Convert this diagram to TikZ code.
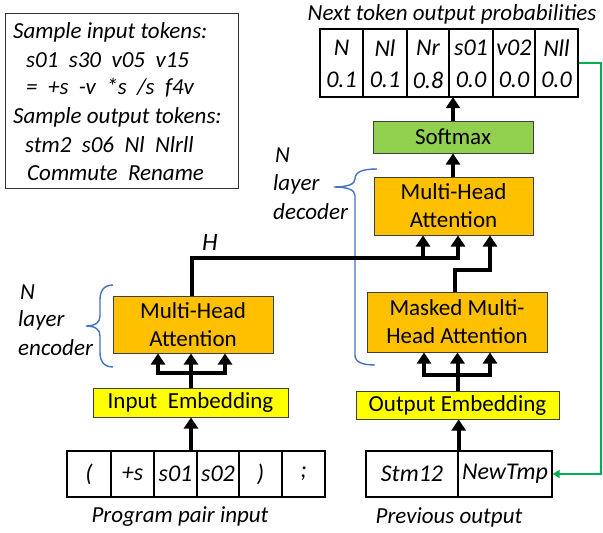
\documentclass[tikz,border=0pt]{standalone}
\usepackage{fontspec}
\setmainfont{Carlito}
\usetikzlibrary{arrows.meta}
\definecolor{orng}{HTML}{FFC000}
\definecolor{yell}{HTML}{FFFF00}
\definecolor{sgreen}{HTML}{92D050}
\definecolor{lgreen}{HTML}{00B050}
\definecolor{bbrace}{HTML}{4472C4}
\definecolor{bord}{HTML}{404040}
\begin{document}
\begin{tikzpicture}[x=1pt,y=-1pt,
  txt/.style={font=\fontsize{23}{28}\selectfont, inner sep=0pt},
  itxt/.style={font=\fontsize{23}{28}\selectfont\itshape, inner sep=0pt},
  ctxt/.style={font=\fontsize{24}{28}\selectfont\itshape, inner sep=0pt},
  box/.style={draw=bord, line width=1pt, inner sep=0pt, align=center, font=\fontsize{23}{28}\selectfont},
  cell/.style={draw=black, line width=1.3pt, inner sep=0pt, font=\fontsize{24}{28}\selectfont\itshape},
  arr/.style={line width=4pt, -{Triangle[width=14pt,length=11pt]}},
  garr/.style={draw=lgreen, line width=2pt, -{Triangle[width=8pt,length=7pt]}},
  brc/.style={draw=bbrace, line width=1.4pt},
]
\useasboundingbox (0,0) rectangle (603,533);

% sample box
\node[draw=black!80, line width=1pt, minimum width=233pt, minimum height=175pt, inner sep=0pt] (sample) at (121.5,100.5) {};
\node[itxt, anchor=west] (s1) at (13,32) {Sample input tokens:};
\node[itxt, anchor=west] (s2) at (26,60) {s01\ \ s30\ \ v05\ \ v15};
\node[itxt, anchor=west] (s3) at (26,88) {=\ \ +s\ \ -v\ \ *s\ \ /s\ \ f4v};
\node[itxt, anchor=west] (s4) at (13,117) {Sample output tokens:};
\node[itxt, anchor=west] (s5) at (25,145) {stm2\ \ s06\ \ Nl\ \ Nlrll};
\node[itxt, anchor=west] (s6) at (27,173) {Commute\ \ Rename};

% title
\node[itxt] (title) at (452,14) {Next token output probabilities};

% probability table
\node[minimum width=258pt, minimum height=68pt, inner sep=0pt] (ptab) at (449,63) {};
\node[cell, minimum width=43pt, minimum height=68pt] (p1) at (341.5,63) {};
\node[cell, minimum width=44pt, minimum height=68pt] (p2) at (385,63) {};
\node[cell, minimum width=42pt, minimum height=68pt] (p3) at (428,63) {};
\node[cell, minimum width=44pt, minimum height=68pt] (p4) at (471,63) {};
\node[cell, minimum width=42pt, minimum height=68pt] (p5) at (514,63) {};
\node[cell, minimum width=43pt, minimum height=68pt] (p6) at (556.5,63) {};
\node[ctxt] (pa1) at (341.5,48) {N};
\node[ctxt] (pa2) at (385,48) {Nl};
\node[ctxt] (pa3) at (428,48) {Nr};
\node[ctxt] (pa4) at (471,48) {s01};
\node[ctxt] (pa5) at (514,48) {v02};
\node[ctxt] (pa6) at (556.5,48) {Nll};
\node[ctxt] (pb1) at (341.5,80) {0.1};
\node[ctxt] (pb2) at (385,80) {0.1};
\node[ctxt] (pb3) at (428,80) {0.8};
\node[ctxt] (pb4) at (471,80) {0.0};
\node[ctxt] (pb5) at (514,80) {0.0};
\node[ctxt] (pb6) at (556.5,80) {0.0};

% decoder side boxes
\node[box, fill=sgreen, minimum width=160pt, minimum height=32pt] (softmax) at (453,137) {Softmax};
\node[box, fill=orng, minimum width=159pt, minimum height=58pt] (decMHA) at (453.5,206) {Multi-Head\\Attention};
\node[box, fill=orng, minimum width=180pt, minimum height=60pt] (masked) at (457,322) {Masked Multi-\\Head Attention};
\node[box, fill=yell, minimum width=203pt, minimum height=28pt] (outemb) at (457.5,405) {Output Embedding};

% encoder side boxes
\node[box, fill=orng, minimum width=160pt, minimum height=57pt] (encMHA) at (193,324.5) {Multi-Head\\Attention};
\node[box, fill=yell, minimum width=195pt, minimum height=29pt] (inemb) at (190.5,402.5) {Input\ \ Embedding};

% input table
\node[cell, minimum width=44pt, minimum height=46pt] (i1) at (89,474) {(};
\node[cell, minimum width=43pt, minimum height=46pt] (i2) at (132.5,474) {+s};
\node[cell, minimum width=43pt, minimum height=46pt] (i3) at (175.5,474) {s01};
\node[cell, minimum width=42pt, minimum height=46pt] (i4) at (218,474) {s02};
\node[cell, minimum width=43pt, minimum height=46pt] (i5) at (260.5,474) {)};
\node[cell, minimum width=43pt, minimum height=46pt] (i6) at (303.5,474) {;};
\node[itxt] (plab) at (180,517) {Program pair input};

% previous output table
\node[cell, minimum width=92pt, minimum height=46pt] (o1) at (412,474) {Stm12};
\node[cell, minimum width=94pt, minimum height=46pt] (o2) at (505,474) {NewTmp};
\node[itxt] (olab) at (449,517) {Previous output};

% labels
\node[itxt, anchor=west] (en1) at (20,292) {N};
\node[itxt, anchor=west] (en2) at (18,320) {layer};
\node[itxt, anchor=west] (en3) at (18,348) {encoder};
\node[itxt, anchor=west] (de1) at (275,155) {N};
\node[itxt, anchor=west] (de2) at (273,184) {layer};
\node[itxt, anchor=west] (de3) at (273,212) {decoder};
\node[font=\fontsize{25}{28}\selectfont\itshape, inner sep=0pt] (H) at (210,242) {H};

% braces
\draw[brc] (113,285) .. controls (103,285) and (100,292) .. (100,300) -- (100,316)
  .. controls (100,322) and (96,326) .. (86,326)
  .. controls (96,326) and (100,330) .. (100,336) -- (100,352)
  .. controls (100,360) and (103,367) .. (113,367);
\draw[brc] (377,169) .. controls (362,169) and (355,172) .. (355,179)
  .. controls (355,184) and (348,187) .. (334,187)
  .. controls (348,187) and (355,190) .. (355,196) -- (355,355)
  .. controls (355,362) and (362,365) .. (375,365);

% junction coordinates
\coordinate (ej) at (191,373);
\coordinate (dj) at (457.5,375);
\coordinate (hc) at (458,258);
\coordinate (hb) at (423,258);
\coordinate (mc) at (455,270);

% encoder connectors
\draw[arr] (i3.north -| ej) -- (inemb.south -| ej);
\draw[arr] (inemb.north -| ej) -- (ej) -| (encMHA.south -| 158,0);
\draw[arr] (inemb.north -| ej) -- (ej) -| (encMHA.south -| 225,0);
\draw[arr] (ej) -- (encMHA.south -| ej);

% H line
\draw[arr] (encMHA.north -| 192,0) |- (hc) -- (decMHA.south -| hc);
\draw[arr] (hb) -- (decMHA.south -| hb);

% decoder connectors
\draw[arr] (o1.north east) -- (outemb.south -| o1.north east);
\draw[arr] (outemb.north -| dj) -- (dj) -| (masked.south -| 424,0);
\draw[arr] (outemb.north -| dj) -- (dj) -| (masked.south -| 490,0);
\draw[arr] (dj) -- (masked.south -| dj);
\draw[arr] (masked.north -| mc) -- (mc) -| (decMHA.south -| 490,0);
\draw[arr] (decMHA.north -| softmax.south) -- (softmax.south);
\draw[arr] (softmax.north) -- (softmax.north |- ptab.south);

% feedback
\draw[garr] (p6.east) -- ++(22,0) |- (o2.east);
\end{tikzpicture}
\end{document}
